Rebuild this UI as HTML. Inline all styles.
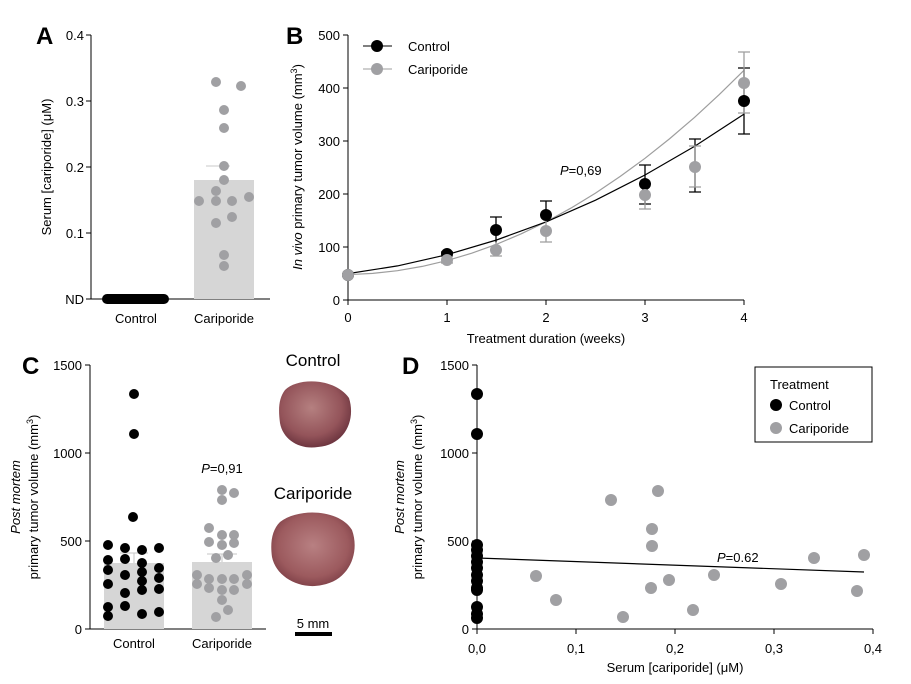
<!DOCTYPE html>
<html><head><meta charset="utf-8"><style>
body{margin:0;background:#fff;}
svg{display:block;font-family:"Liberation Sans",Arial,sans-serif;}
</style></head><body>
<svg width="911" height="684" viewBox="0 0 911 684" xmlns="http://www.w3.org/2000/svg">
<defs>
<radialGradient id="tc" cx="0.45" cy="0.4" r="0.6"><stop offset="0" stop-color="#b58080"/><stop offset="0.7" stop-color="#94545a"/><stop offset="1" stop-color="#6e3640"/></radialGradient>
<radialGradient id="tk" cx="0.5" cy="0.45" r="0.6"><stop offset="0" stop-color="#b88082"/><stop offset="0.7" stop-color="#9c5a5e"/><stop offset="1" stop-color="#7a3c44"/></radialGradient>
</defs>
<g font-size="13" fill="#000">
<!-- Panel A -->
<text x="36" y="44" font-size="24" font-weight="bold">A</text>
<line x1="91" y1="35" x2="91" y2="299" stroke="#000"/>
<line x1="91" y1="299" x2="270" y2="299" stroke="#000"/>
<g stroke="#000"><line x1="86" y1="35" x2="91" y2="35"/><line x1="86" y1="101" x2="91" y2="101"/><line x1="86" y1="167" x2="91" y2="167"/><line x1="86" y1="233" x2="91" y2="233"/><line x1="86" y1="299" x2="91" y2="299"/></g>
<g text-anchor="end"><text x="84" y="40">0.4</text><text x="84" y="106">0.3</text><text x="84" y="172">0.2</text><text x="84" y="238">0.1</text><text x="84" y="304">ND</text></g>
<rect x="194" y="180" width="60" height="119" fill="#d6d6d6"/>
<line x1="206" y1="166" x2="230" y2="166" stroke="#c8c8c8"/>
<line x1="107" y1="299" x2="164" y2="299" stroke="#000" stroke-width="10" stroke-linecap="round"/>
<g fill="#a0a0a3"><circle cx="216" cy="82" r="5"/><circle cx="241" cy="86" r="5"/><circle cx="224" cy="110" r="5"/><circle cx="224" cy="128" r="5"/><circle cx="224" cy="166" r="5"/><circle cx="224" cy="180" r="5"/><circle cx="216" cy="191" r="5"/><circle cx="199" cy="201" r="5"/><circle cx="216" cy="201" r="5"/><circle cx="232" cy="201" r="5"/><circle cx="249" cy="197" r="5"/><circle cx="216" cy="223" r="5"/><circle cx="232" cy="217" r="5"/><circle cx="224" cy="255" r="5"/><circle cx="224" cy="266" r="5"/></g>
<g text-anchor="middle"><text x="136" y="323">Control</text><text x="224" y="323">Cariporide</text></g>
<text transform="translate(51,167) rotate(-90)" text-anchor="middle">Serum [cariporide] (μM)</text>

<!-- Panel B -->
<text x="286" y="44" font-size="24" font-weight="bold">B</text>
<line x1="348" y1="35" x2="348" y2="300" stroke="#000"/>
<line x1="348" y1="300" x2="744" y2="300" stroke="#000"/>
<g stroke="#000"><line x1="343" y1="35" x2="348" y2="35"/><line x1="343" y1="88" x2="348" y2="88"/><line x1="343" y1="141" x2="348" y2="141"/><line x1="343" y1="194" x2="348" y2="194"/><line x1="343" y1="247" x2="348" y2="247"/><line x1="343" y1="300" x2="348" y2="300"/>
<line x1="348" y1="300" x2="348" y2="305"/><line x1="447" y1="300" x2="447" y2="305"/><line x1="546" y1="300" x2="546" y2="305"/><line x1="645" y1="300" x2="645" y2="305"/><line x1="744" y1="300" x2="744" y2="305"/></g>
<g text-anchor="end"><text x="340" y="40">500</text><text x="340" y="93">400</text><text x="340" y="146">300</text><text x="340" y="199">200</text><text x="340" y="252">100</text><text x="340" y="305">0</text></g>
<g text-anchor="middle"><text x="348" y="322">0</text><text x="447" y="322">1</text><text x="546" y="322">2</text><text x="645" y="322">3</text><text x="744" y="322">4</text>
<text x="546" y="343">Treatment duration (weeks)</text></g>
<text transform="translate(302,167) rotate(-90)" text-anchor="middle"><tspan font-style="italic">In vivo</tspan> primary tumor volume (mm<tspan font-size="9" dy="-5">3</tspan><tspan dy="5">)</tspan></text>
<polyline fill="none" stroke="#9e9e9e" stroke-width="1.2" points="348,274.7 372.75,273.4 397.5,270.7 422.25,266.4 447,260.6 471.75,253.2 496.5,244.3 521.25,233.8 546,221.9 570.75,208.2 595.5,193.1 620.25,176.4 645,158.3 669.75,138.6 694.5,117.4 719.25,94.6 744,70.3"/>
<polyline fill="none" stroke="#000" stroke-width="1.2" points="348,273.6 397.5,265.9 447,254.7 496.5,240 546,221.9 595.5,200.2 645,175 694.5,146.4 744,114.1"/>
<g stroke="#000" stroke-width="1.3" fill="none">
<path d="M447,254v-2M441,252h12M496,243v-26M490,217h12M546,215v-14M540,201h12M645,204v-39M639,165h12M639,204h12M695,192v-53M689,192h12M689,139h12M744,134v-66M738,68h12M738,134h12"/></g>
<g stroke="#9e9e9e" stroke-width="1.3" fill="none">
<path d="M441,263h12M496,256v-14M490,256h12M546,242v-24M540,242h12M645,209v-26M639,209h12M695,187v-41M689,187h12M689,146h12M744,113v-61M738,52h12M738,113h12"/></g>
<g fill="#000"><circle cx="348" cy="275" r="6"/><circle cx="447" cy="254" r="6"/><circle cx="496" cy="230" r="6"/><circle cx="546" cy="215" r="6"/><circle cx="645" cy="184" r="6"/><circle cx="744" cy="101" r="6"/></g>
<g fill="#a0a0a3"><circle cx="348" cy="275" r="6"/><circle cx="447" cy="260" r="6"/><circle cx="496" cy="250" r="6"/><circle cx="546" cy="231" r="6"/><circle cx="645" cy="195" r="6"/><circle cx="695" cy="167" r="6"/><circle cx="744" cy="83" r="6"/></g>
<text x="560" y="175"><tspan font-style="italic">P</tspan>=0,69</text>
<line x1="363" y1="46" x2="392" y2="46" stroke="#000"/><circle cx="377" cy="46" r="6" fill="#000"/>
<line x1="363" y1="69" x2="392" y2="69" stroke="#9e9e9e"/><circle cx="377" cy="69" r="6" fill="#a0a0a3"/>
<text x="408" y="51">Control</text><text x="408" y="74">Cariporide</text>

<!-- Panel C -->
<text x="22" y="374" font-size="24" font-weight="bold">C</text>
<line x1="90" y1="365" x2="90" y2="629" stroke="#000"/>
<line x1="90" y1="629" x2="266" y2="629" stroke="#000"/>
<g stroke="#000"><line x1="85" y1="365" x2="90" y2="365"/><line x1="85" y1="453" x2="90" y2="453"/><line x1="85" y1="541" x2="90" y2="541"/><line x1="85" y1="629" x2="90" y2="629"/></g>
<g text-anchor="end"><text x="82" y="370">1500</text><text x="82" y="458">1000</text><text x="82" y="546">500</text><text x="82" y="634">0</text></g>
<text transform="translate(20,497) rotate(-90)" text-anchor="middle" font-style="italic">Post mortem</text>
<text transform="translate(38,497) rotate(-90)" text-anchor="middle">primary tumor volume (mm<tspan font-size="9" dy="-5">3</tspan><tspan dy="5">)</tspan></text>
<rect x="104" y="563" width="60" height="66" fill="#d6d6d6"/>
<rect x="192" y="562" width="60" height="67" fill="#d6d6d6"/>
<path d="M134,563v-10M120,553h28M222,562v-8M207,554h30" stroke="#c4c4c4" fill="none"/>
<g fill="#000"><circle cx="134" cy="394" r="5"/><circle cx="134" cy="434" r="5"/><circle cx="133" cy="517" r="5"/>
<circle cx="108" cy="545" r="5"/><circle cx="108" cy="560" r="5"/><circle cx="108" cy="570" r="5"/><circle cx="108" cy="584" r="5"/><circle cx="108" cy="607" r="5"/><circle cx="108" cy="616" r="5"/>
<circle cx="125" cy="548" r="5"/><circle cx="125" cy="559" r="5"/><circle cx="125" cy="575" r="5"/><circle cx="125" cy="593" r="5"/><circle cx="125" cy="606" r="5"/>
<circle cx="142" cy="550" r="5"/><circle cx="142" cy="563" r="5"/><circle cx="142" cy="572" r="5"/><circle cx="142" cy="581" r="5"/><circle cx="142" cy="590" r="5"/><circle cx="142" cy="614" r="5"/>
<circle cx="159" cy="548" r="5"/><circle cx="159" cy="568" r="5"/><circle cx="159" cy="578" r="5"/><circle cx="159" cy="589" r="5"/><circle cx="159" cy="612" r="5"/></g>
<g fill="#a0a0a3"><circle cx="222" cy="490" r="5"/><circle cx="234" cy="493" r="5"/><circle cx="222" cy="500" r="5"/><circle cx="209" cy="528" r="5"/><circle cx="222" cy="535" r="5"/><circle cx="234" cy="535" r="5"/><circle cx="209" cy="542" r="5"/><circle cx="222" cy="545" r="5"/><circle cx="234" cy="543" r="5"/><circle cx="216" cy="558" r="5"/><circle cx="228" cy="555" r="5"/><circle cx="197" cy="575" r="5"/><circle cx="247" cy="575" r="5"/><circle cx="197" cy="584" r="5"/><circle cx="247" cy="584" r="5"/><circle cx="209" cy="579" r="5"/><circle cx="222" cy="579" r="5"/><circle cx="234" cy="579" r="5"/><circle cx="209" cy="588" r="5"/><circle cx="222" cy="590" r="5"/><circle cx="234" cy="590" r="5"/><circle cx="222" cy="600" r="5"/><circle cx="228" cy="610" r="5"/><circle cx="216" cy="617" r="5"/></g>
<text x="222" y="473" text-anchor="middle"><tspan font-style="italic">P</tspan>=0,91</text>
<g text-anchor="middle"><text x="134" y="648">Control</text><text x="222" y="648">Cariporide</text></g>
<g text-anchor="middle" font-size="17"><text x="313" y="366">Control</text><text x="313" y="499">Cariporide</text></g>
<path d="M285,390 C298,377 335,378 349,398 C356,420 345,445 318,447 C300,450 283,440 280,423 C278,408 279,398 285,390Z" fill="url(#tc)"/>
<path d="M280,522 C300,507 340,510 352,530 C360,552 350,580 322,585 C300,590 276,577 272,557 C270,542 272,530 280,522Z" fill="url(#tk)"/>
<text x="313" y="628" text-anchor="middle">5 mm</text>
<rect x="295" y="632" width="37" height="4" fill="#000"/>

<!-- Panel D -->
<text x="402" y="374" font-size="24" font-weight="bold">D</text>
<line x1="477" y1="365" x2="477" y2="629" stroke="#000"/>
<line x1="477" y1="629" x2="873" y2="629" stroke="#000"/>
<g stroke="#000"><line x1="472" y1="365" x2="477" y2="365"/><line x1="472" y1="453" x2="477" y2="453"/><line x1="472" y1="541" x2="477" y2="541"/><line x1="472" y1="629" x2="477" y2="629"/>
<line x1="477" y1="629" x2="477" y2="634"/><line x1="576" y1="629" x2="576" y2="634"/><line x1="675" y1="629" x2="675" y2="634"/><line x1="774" y1="629" x2="774" y2="634"/><line x1="873" y1="629" x2="873" y2="634"/></g>
<g text-anchor="end"><text x="469" y="370">1500</text><text x="469" y="458">1000</text><text x="469" y="546">500</text><text x="469" y="634">0</text></g>
<g text-anchor="middle"><text x="477" y="653">0,0</text><text x="576" y="653">0,1</text><text x="675" y="653">0,2</text><text x="774" y="653">0,3</text><text x="873" y="653">0,4</text>
<text x="675" y="672">Serum [cariporide] (μM)</text></g>
<text transform="translate(404,497) rotate(-90)" text-anchor="middle" font-style="italic">Post mortem</text>
<text transform="translate(422,497) rotate(-90)" text-anchor="middle">primary tumor volume (mm<tspan font-size="9" dy="-5">3</tspan><tspan dy="5">)</tspan></text>
<g fill="#a0a0a3"><circle cx="536" cy="576" r="6"/><circle cx="556" cy="600" r="6"/><circle cx="611" cy="500" r="6"/><circle cx="658" cy="491" r="6"/><circle cx="652" cy="529" r="6"/><circle cx="652" cy="546" r="6"/><circle cx="651" cy="588" r="6"/><circle cx="669" cy="580" r="6"/><circle cx="623" cy="617" r="6"/><circle cx="693" cy="610" r="6"/><circle cx="714" cy="575" r="6"/><circle cx="781" cy="584" r="6"/><circle cx="814" cy="558" r="6"/><circle cx="857" cy="591" r="6"/><circle cx="864" cy="555" r="6"/></g>
<g fill="#000"><circle cx="477" cy="394" r="6"/><circle cx="477" cy="434" r="6"/><circle cx="477" cy="545" r="6"/><circle cx="477" cy="550" r="6"/><circle cx="477" cy="556" r="6"/><circle cx="477" cy="562" r="6"/><circle cx="477" cy="568" r="6"/><circle cx="477" cy="575" r="6"/><circle cx="477" cy="581" r="6"/><circle cx="477" cy="588" r="6"/><circle cx="477" cy="590" r="6"/><circle cx="477" cy="607" r="6"/><circle cx="477" cy="614" r="6"/><circle cx="477" cy="618" r="6"/></g>
<line x1="477" y1="558" x2="864" y2="572" stroke="#000" stroke-width="1.2"/>
<text x="717" y="562"><tspan font-style="italic">P</tspan>=0.62</text>
<rect x="755" y="367" width="117" height="75" fill="#fff" stroke="#000"/>
<text x="770" y="389">Treatment</text>
<circle cx="776" cy="405" r="6" fill="#000"/><text x="789" y="410">Control</text>
<circle cx="776" cy="428" r="6" fill="#a0a0a3"/><text x="789" y="433">Cariporide</text>
</g>
</svg>
</body></html>
